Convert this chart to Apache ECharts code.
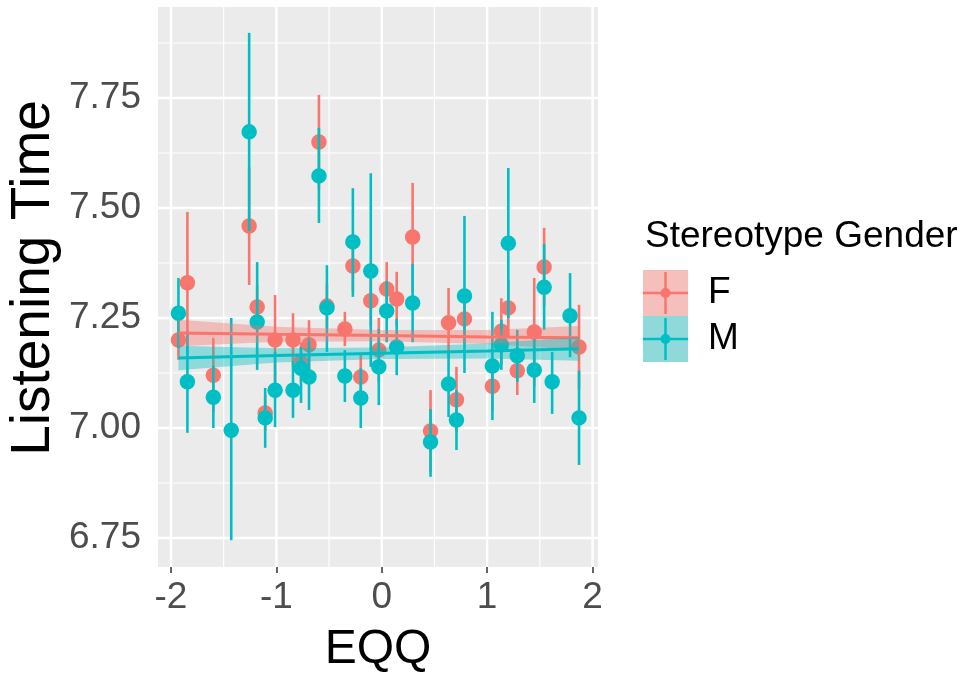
<!DOCTYPE html>
<html>
<head>
<meta charset="utf-8">
<script src="https://cdn.jsdelivr.net/npm/echarts@6/dist/echarts.min.js"></script>
<style>
html,body{margin:0;padding:0;background:#ffffff;}
#chart{width:972px;height:674px;}
</style>
</head>
<body>
<div id="chart"></div>
<script>
// ---------- data ----------
const seriesNames = ['F', 'M'];

// F (female stereotype) point estimates with error-bar ends
const fX  = [-1.929,-1.844,-1.598,-1.258,-1.182,-1.106,-1.012,-0.842,-0.766,-0.690,-0.596,-0.520,-0.350,-0.274,-0.199,-0.104,-0.028, 0.047, 0.142, 0.293, 0.463, 0.634, 0.709, 0.785, 1.050, 1.135, 1.201, 1.286, 1.447, 1.541, 1.872];
const fY  = [ 7.200, 7.330, 7.120, 7.459, 7.275, 7.034, 7.200, 7.200, 7.150, 7.189, 7.650, 7.277, 7.225, 7.368, 7.116, 7.289, 7.177, 7.316, 7.293, 7.434, 6.993, 7.239, 7.064, 7.248, 7.095, 7.220, 7.273, 7.130, 7.218, 7.366, 7.184];
const fLo = [ 7.155, 7.168, 7.036, 7.325, 7.225, 6.993, 7.098, 7.139, 7.105, 7.132, 7.543, 7.227, 7.186, 7.311, 7.061, 7.232, 7.105, 7.255, 7.232, 7.311, 6.900, 7.159, 6.989, 7.191, 7.039, 7.145, 7.209, 7.075, 7.095, 7.277, 7.089];
const fHi = [ 7.245, 7.491, 7.204, 7.593, 7.325, 7.075, 7.302, 7.261, 7.195, 7.245, 7.757, 7.327, 7.264, 7.425, 7.170, 7.345, 7.250, 7.377, 7.355, 7.557, 7.086, 7.318, 7.139, 7.305, 7.152, 7.295, 7.336, 7.184, 7.341, 7.455, 7.280];

// M (male stereotype) point estimates with error-bar ends
const mX  = [-1.929,-1.844,-1.598,-1.428,-1.258,-1.182,-1.106,-1.012,-0.842,-0.766,-0.690,-0.596,-0.520,-0.350,-0.274,-0.199,-0.104,-0.028, 0.047, 0.142, 0.293, 0.463, 0.634, 0.709, 0.785, 1.050, 1.135, 1.201, 1.286, 1.447, 1.541, 1.617, 1.787, 1.872];
const mY  = [ 7.261, 7.105, 7.070, 6.995, 7.673, 7.241, 7.023, 7.086, 7.086, 7.136, 7.116, 7.573, 7.273, 7.118, 7.423, 7.068, 7.357, 7.139, 7.266, 7.184, 7.284, 6.968, 7.100, 7.018, 7.300, 7.141, 7.189, 7.420, 7.164, 7.132, 7.320, 7.105, 7.255, 7.023];
const mLo = [ 7.182, 6.989, 7.000, 6.745, 7.448, 7.132, 6.955, 7.002, 7.023, 7.057, 7.041, 7.466, 7.173, 7.059, 7.298, 7.000, 7.139, 7.052, 7.195, 7.120, 7.195, 6.889, 7.025, 6.950, 7.125, 7.018, 7.132, 7.250, 7.105, 7.057, 7.223, 7.032, 7.161, 6.916];
const mHi = [ 7.341, 7.220, 7.141, 7.250, 7.898, 7.377, 7.091, 7.173, 7.152, 7.184, 7.205, 7.682, 7.370, 7.177, 7.545, 7.136, 7.579, 7.225, 7.334, 7.248, 7.373, 7.043, 7.175, 7.086, 7.482, 7.264, 7.245, 7.591, 7.223, 7.207, 7.418, 7.173, 7.352, 7.130];

// linear fits with confidence bands, read at a few EQQ positions
const fitX    = [-1.929, -1.0, 0.0, 1.0, 1.872];
const fFit    = [ 7.216, 7.213, 7.210, 7.207, 7.205];
const fBandLo = [ 7.186, 7.196, 7.197, 7.191, 7.178];
const fBandHi = [ 7.246, 7.230, 7.223, 7.223, 7.232];
const mFit    = [ 7.159, 7.165, 7.170, 7.175, 7.180];
const mBandLo = [ 7.131, 7.149, 7.157, 7.158, 7.153];
const mBandHi = [ 7.187, 7.181, 7.183, 7.192, 7.207];

// axes
const xMajor = [-2, -1, 0, 1, 2];
const xMinor = [-1.5, -0.5, 0.5, 1.5];
const yMajor = [6.75, 7.00, 7.25, 7.50, 7.75];
const yMinor = [6.875, 7.125, 7.375, 7.625, 7.875];
const yTickLabels = ['6.75', '7.00', '7.25', '7.50', '7.75'];
const xTickLabels = ['-2', '-1', '0', '1', '2'];
const xTitle = 'EQQ';
const yTitle = 'Listening Time';
const legendTitle = 'Stereotype Gender';

// ---------- styles ----------
const COL_F = '#F8766D';
const COL_M = '#00BFC4';
const FONT = '"Liberation Sans", Arial, sans-serif';
const X_MIN = -2.123, X_MAX = 2.052;
const Y_MIN = 6.6841, Y_MAX = 7.9568;

const zip = (a, b) => a.map((v, i) => [v, b[i]]);
const zip3 = (a, b, c) => a.map((v, i) => [v, b[i], c[i]]);

function gridRender(isX, width) {
  return function (params, api) {
    const cs = params.coordSys;
    const v = api.value(0);
    let x1, y1, x2, y2;
    if (isX) {
      const p = api.coord([v, Y_MIN]);
      x1 = x2 = p[0]; y1 = cs.y; y2 = cs.y + cs.height;
    } else {
      const p = api.coord([X_MIN, v]);
      y1 = y2 = p[1]; x1 = cs.x; x2 = cs.x + cs.width;
    }
    return { type: 'line', shape: { x1, y1, x2, y2 }, style: { stroke: '#FFFFFF', lineWidth: width } };
  };
}

function errRender(color) {
  return function (params, api) {
    const a = api.coord([api.value(0), api.value(1)]);
    const b = api.coord([api.value(0), api.value(2)]);
    return { type: 'line', shape: { x1: a[0], y1: a[1], x2: b[0], y2: b[1] }, style: { stroke: color, lineWidth: 2.6 } };
  };
}

function bandRender(lo, hi, color) {
  return function (params, api) {
    if (params.dataIndex !== 0) return null;
    const pts = [];
    for (let i = 0; i < fitX.length; i++) pts.push(api.coord([fitX[i], hi[i]]));
    for (let i = fitX.length - 1; i >= 0; i--) pts.push(api.coord([fitX[i], lo[i]]));
    return { type: 'polygon', shape: { points: pts }, style: { fill: color, opacity: 0.4 } };
  };
}

const chart = echarts.init(document.getElementById('chart'), null, { renderer: 'canvas' });

const option = {
  animation: false,
  backgroundColor: '#FFFFFF',
  grid: { left: 158, top: 7, width: 440, height: 560, show: true, backgroundColor: '#EBEBEB', borderWidth: 0 },
  xAxis: {
    type: 'value', min: X_MIN, max: X_MAX,
    axisLine: { show: false },
    splitLine: { show: false },
    axisTick: { show: true, length: 6, lineStyle: { color: '#333333', width: 1.5 }, customValues: xMajor },
    axisLabel: {
      show: true, customValues: xMajor, margin: 12,
      color: '#4D4D4D', fontSize: 37, fontFamily: FONT,
      formatter: v => xTickLabels[xMajor.indexOf(v)] ?? String(v)
    }
  },
  yAxis: {
    type: 'value', min: Y_MIN, max: Y_MAX,
    axisLine: { show: false },
    splitLine: { show: false },
    axisTick: { show: true, length: 6, lineStyle: { color: '#333333', width: 1.5 }, customValues: yMajor },
    axisLabel: {
      show: true, customValues: yMajor, margin: 17,
      color: '#4D4D4D', fontSize: 37, fontFamily: FONT,
      formatter: v => yTickLabels[yMajor.indexOf(v)] ?? v.toFixed(2)
    }
  },
  graphic: [
    { type: 'text', x: 378, y: 650, style: { text: xTitle, fontSize: 48, fontFamily: FONT, fill: '#000000', align: 'center', verticalAlign: 'middle' } },
    { type: 'text', x: 34, y: 278, rotation: Math.PI / 2, style: { text: yTitle, fontSize: 55, fontFamily: FONT, fill: '#000000', align: 'center', verticalAlign: 'middle' } },
    { type: 'text', x: 645, y: 237, style: { text: legendTitle, fontSize: 37, fontFamily: FONT, fill: '#000000', align: 'left', verticalAlign: 'middle' } },
    // legend key F
    { type: 'rect', shape: { x: 643, y: 270, width: 45, height: 46 }, style: { fill: '#F5BFBC' } },
    { type: 'line', shape: { x1: 643, y1: 293, x2: 688, y2: 293 }, style: { stroke: COL_F, lineWidth: 2.5 } },
    { type: 'line', shape: { x1: 665.5, y1: 272, x2: 665.5, y2: 314 }, style: { stroke: COL_F, lineWidth: 2.5 } },
    { type: 'circle', shape: { cx: 665.5, cy: 293, r: 5 }, style: { fill: COL_F } },
    { type: 'text', x: 708, y: 293, style: { text: seriesNames[0], fontSize: 37, fontFamily: FONT, fill: '#000000', align: 'left', verticalAlign: 'middle' } },
    // legend key M
    { type: 'rect', shape: { x: 643, y: 316, width: 45, height: 46 }, style: { fill: '#8FD9DB' } },
    { type: 'line', shape: { x1: 643, y1: 339, x2: 688, y2: 339 }, style: { stroke: COL_M, lineWidth: 2.5 } },
    { type: 'line', shape: { x1: 665.5, y1: 318, x2: 665.5, y2: 360 }, style: { stroke: COL_M, lineWidth: 2.5 } },
    { type: 'circle', shape: { cx: 665.5, cy: 339, r: 5 }, style: { fill: COL_M } },
    { type: 'text', x: 708, y: 339, style: { text: seriesNames[1], fontSize: 37, fontFamily: FONT, fill: '#000000', align: 'left', verticalAlign: 'middle' } }
  ],
  series: [
    { type: 'custom', silent: true, z: 1, renderItem: gridRender(true, 1.2), data: xMinor.map(v => [v]) },
    { type: 'custom', silent: true, z: 1, renderItem: gridRender(false, 1.2), data: yMinor.map(v => [v]) },
    { type: 'custom', silent: true, z: 1, renderItem: gridRender(true, 2.4), data: xMajor.map(v => [v]) },
    { type: 'custom', silent: true, z: 1, renderItem: gridRender(false, 2.4), data: yMajor.map(v => [v]) },

    { name: 'F', type: 'custom', z: 3, renderItem: errRender(COL_F), data: zip3(fX, fLo, fHi) },
    { name: 'F', type: 'scatter', z: 4, symbol: 'circle', symbolSize: 15.5, itemStyle: { color: COL_F, opacity: 1 }, data: zip(fX, fY) },
    { name: 'M', type: 'custom', z: 5, renderItem: errRender(COL_M), data: zip3(mX, mLo, mHi) },
    { name: 'M', type: 'scatter', z: 6, symbol: 'circle', symbolSize: 15.5, itemStyle: { color: COL_M, opacity: 1 }, data: zip(mX, mY) },

    { type: 'custom', silent: true, z: 7, renderItem: bandRender(fBandLo, fBandHi, COL_F), data: [[0]] },
    { type: 'line', z: 8, silent: true, showSymbol: false, lineStyle: { color: COL_F, width: 3 }, data: zip(fitX, fFit) },
    { type: 'custom', silent: true, z: 9, renderItem: bandRender(mBandLo, mBandHi, COL_M), data: [[0]] },
    { type: 'line', z: 10, silent: true, showSymbol: false, lineStyle: { color: COL_M, width: 3 }, data: zip(fitX, mFit) }
  ]
};
chart.setOption(option);
</script>
</body>
</html>
